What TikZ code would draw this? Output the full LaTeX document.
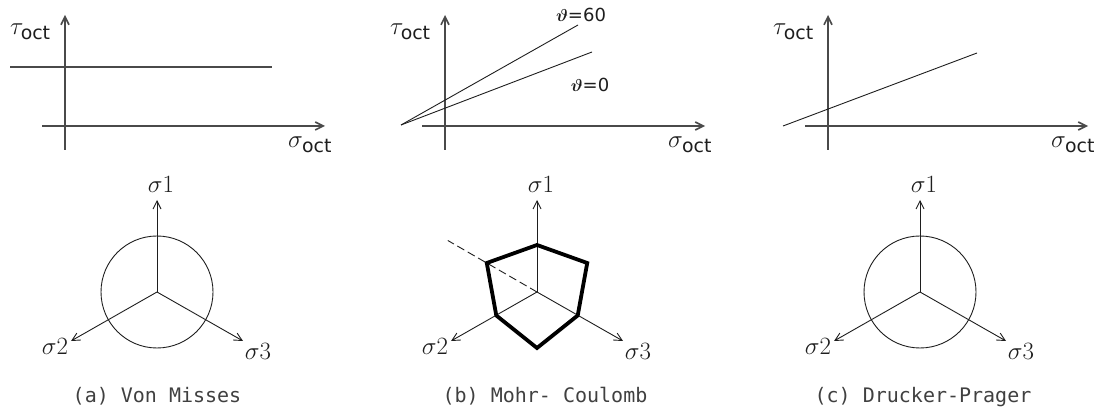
\documentclass[tikz,border=0pt]{standalone}
\usepackage{fontspec}
\usepackage{amsmath}
\usepackage{amssymb}
\usepackage{tikz}
\usetikzlibrary{arrows.meta,positioning,calc}
\newfontfamily\labfont{DejaVu Sans}
\newfontfamily\capfont{DejaVu Sans Mono}
\definecolor{ycgrey}{HTML}{4A4A4A}
\definecolor{ycdark}{HTML}{1E1E1E}

\begin{document}
\begin{tikzpicture}[x=1pt,y=1pt,
  axisline/.style={draw=ycgrey,line width=1.6pt,-{Straight Barb[length=8pt,width=8pt]}},
  envline/.style={draw=ycdark,line width=0.9pt},
  stressaxis/.style={draw=ycdark,line width=0.9pt,-{Straight Barb[length=8pt,width=8pt]}},
  axlabel/.style={font=\fontsize{27}{27}\selectfont,color=ycdark,inner sep=0pt,anchor=base west},
  thlabel/.style={font=\labfont\fontsize{18}{18}\selectfont,color=ycdark,inner sep=0pt},
  stresslabel/.style={font=\fontsize{31}{31}\selectfont,color=ycdark,inner sep=0pt,anchor=base},
  caplabel/.style={font=\capfont\fontsize{20}{20}\selectfont,color=ycdark!85,inner sep=0pt,anchor=base}]
\useasboundingbox (0,0) rectangle (1094,409);
% meridian planes and deviatoric planes
\foreach \ox/\tag in {0/vm,380/mc,763/dp} {
  \coordinate (\tag-yb) at (\ox+65,259);
  \coordinate (\tag-yt) at (\ox+65,394);
  \coordinate (\tag-xl) at (\ox+42,283);
  \coordinate (\tag-xr) at (\ox+325,283);
  \draw[axisline] (\tag-yb) -- (\tag-yt);
  \draw[axisline] (\tag-xl) -- (\tag-xr);
  \node[axlabel] (\tag-tau) at (\ox+10,374) {$\tau_{\text{\labfont oct}}$};
  \node[axlabel] (\tag-sig) at (\ox+288,261) {$\sigma_{\text{\labfont oct}}$};
  \coordinate (\tag-c) at (\ox+157,117);
  \coordinate (\tag-s1) at (\ox+157,209);
  \coordinate (\tag-s2) at (\ox+71,68);
  \coordinate (\tag-s3) at (\ox+243,68);
  \draw[stressaxis] (\tag-c) -- (\tag-s1);
  \draw[stressaxis] (\tag-c) -- (\tag-s2);
  \draw[stressaxis] (\tag-c) -- (\tag-s3);
  \node[stresslabel] (\tag-l1) at (\ox+161,216) {$\sigma1$};
  \node[stresslabel] (\tag-l2) at (\ox+55,54) {$\sigma2$};
  \node[stresslabel] (\tag-l3) at (\ox+258,49) {$\sigma3$};
}
% (a) Von Misses
\coordinate (vm-a) at (10,342);
\coordinate (vm-b) at (272,342);
\draw[draw=ycgrey,line width=1.6pt] (vm-a) -- (vm-b);
\draw[envline] (vm-c) circle[radius=56];
\node[caplabel] (vm-cap) at (157,6) {(a) Von Misses};
% (b) Mohr-Coulomb
\coordinate (mc-a) at (401,284);
\coordinate (mc-b) at (578,384);
\coordinate (mc-d) at (592,357);
\draw[envline] (mc-a) -- (mc-b);
\draw[envline] (mc-a) -- (mc-d);
\node[thlabel] (mc-t60) at (581,394) {$\boldsymbol{\vartheta}$=60};
\node[thlabel] (mc-t0) at (590,324) {$\boldsymbol{\vartheta}$=0};
\draw[envline,dash pattern=on 8pt off 4pt] (mc-c) -- ($(mc-c)+(150:103)$);
\draw[draw=black,line width=3.8pt,line join=miter]
  ($(mc-c)+(90:47)$) -- ($(mc-c)+(30:58)$) -- ($(mc-c)+(330:47)$)
  -- ($(mc-c)+(270:56)$) -- ($(mc-c)+(210:47)$) -- ($(mc-c)+(150:58)$) -- cycle;
\node[caplabel] (mc-cap) at (545,6) {(b) Mohr- Coulomb};
% (c) Drucker-Prager
\coordinate (dp-a) at (783,283);
\coordinate (dp-b) at (977,356);
\draw[envline] (dp-a) -- (dp-b);
\draw[envline] (dp-c) circle[radius=56];
\node[caplabel] (dp-cap) at (923,6) {(c) Drucker-Prager};
\end{tikzpicture}
\end{document}
